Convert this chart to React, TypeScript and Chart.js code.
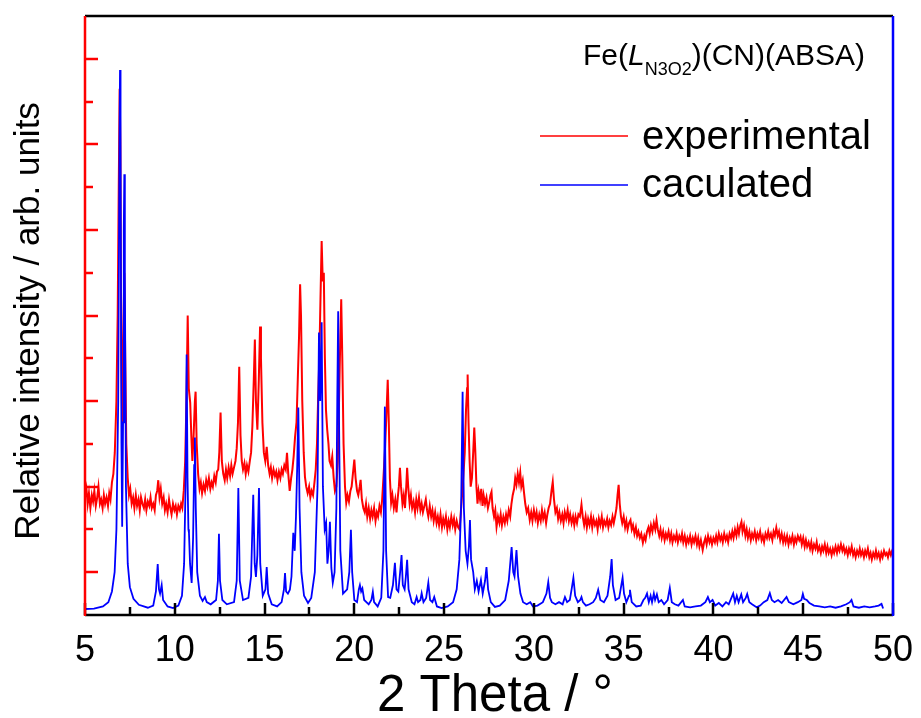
import React, { useEffect, useRef } from "react";
import { Chart, registerables } from "chart.js";

Chart.register(...registerables);

// ---- axis ranges & ticks ----
const X_MIN = 5;
const X_MAX = 50;
const Y_MIN = 0;
const Y_MAX = 14;
const xMajorTicks = [5, 10, 15, 20, 25, 30, 35, 40, 45, 50];
const xMinorTicks = [7.5, 12.5, 17.5, 22.5, 27.5, 32.5, 37.5, 42.5, 47.5];
const yMajorTicks = [1, 3, 5, 7, 9, 11, 13];
const yMinorTicks = [2, 4, 6, 8, 10, 12];

// ---- series: [2theta, relative intensity] ----
const experimental: [number, number][] = [
  [5.0, 2.75], [5.08, 2.95], [5.15, 2.6], [5.22, 2.85], [5.3, 2.5], [5.38, 2.8], [5.45, 2.65], [5.52, 2.9],
  [5.6, 2.55], [5.68, 2.75], [5.75, 3.0], [5.83, 2.6], [5.9, 2.7], [5.98, 2.5], [6.05, 2.8], [6.12, 2.6],
  [6.2, 2.75], [6.28, 2.55], [6.35, 2.85], [6.42, 2.7], [6.5, 3.1], [6.58, 3.3], [6.66, 3.8], [6.75, 5.0],
  [6.82, 7.0], [6.88, 10.0], [6.93, 12.3], [6.97, 11.0], [7.02, 6.0], [7.07, 4.5], [7.13, 6.5], [7.19, 8.0],
  [7.24, 6.0], [7.3, 4.0], [7.38, 3.2], [7.45, 2.8], [7.52, 2.95], [7.6, 2.6], [7.68, 2.75], [7.75, 2.5],
  [7.83, 2.8], [7.9, 2.55], [7.98, 2.7], [8.05, 2.45], [8.12, 2.75], [8.2, 2.6], [8.28, 2.5], [8.35, 2.7],
  [8.42, 2.45], [8.5, 2.65], [8.58, 2.55], [8.65, 2.75], [8.72, 2.5], [8.8, 2.6], [8.88, 2.45], [8.95, 2.8],
  [9.02, 2.9], [9.08, 3.15], [9.15, 2.75], [9.22, 2.95], [9.3, 2.6], [9.38, 2.75], [9.45, 2.45], [9.52, 2.6],
  [9.6, 2.4], [9.68, 2.7], [9.75, 2.5], [9.82, 2.35], [9.9, 2.6], [9.98, 2.45], [10.05, 2.55], [10.12, 2.35],
  [10.2, 2.55], [10.28, 2.45], [10.35, 2.6], [10.42, 2.5], [10.5, 2.9], [10.58, 3.6], [10.65, 5.0], [10.72, 7.0],
  [10.78, 5.3], [10.86, 4.96], [10.92, 4.2], [10.98, 3.6], [11.05, 4.2], [11.12, 5.0], [11.16, 5.22], [11.22, 4.0],
  [11.3, 3.3], [11.38, 2.95], [11.45, 3.1], [11.52, 2.85], [11.6, 3.05], [11.68, 2.9], [11.75, 3.15], [11.82, 3.0],
  [11.9, 3.2], [11.98, 2.95], [12.05, 3.1], [12.12, 3.0], [12.2, 3.25], [12.28, 3.1], [12.35, 3.35], [12.42, 3.4],
  [12.48, 3.8], [12.55, 4.73], [12.62, 3.6], [12.7, 3.3], [12.78, 3.15], [12.85, 3.4], [12.92, 3.2], [13.0, 3.45],
  [13.08, 3.25], [13.15, 3.5], [13.22, 3.3], [13.3, 3.45], [13.38, 3.6], [13.45, 3.9], [13.52, 4.5], [13.59, 5.8],
  [13.66, 4.2], [13.73, 3.6], [13.8, 3.4], [13.88, 3.55], [13.95, 3.3], [14.02, 3.5], [14.1, 3.35], [14.18, 3.6],
  [14.25, 3.8], [14.32, 4.4], [14.4, 5.5], [14.46, 6.44], [14.52, 5.0], [14.6, 4.33], [14.68, 5.5], [14.75, 6.74],
  [14.8, 6.0], [14.88, 4.5], [14.96, 3.8], [15.04, 3.6], [15.12, 3.93], [15.2, 3.5], [15.28, 3.3], [15.35, 3.45],
  [15.42, 3.2], [15.5, 3.4], [15.58, 3.25], [15.65, 3.35], [15.72, 3.15], [15.8, 3.35], [15.88, 3.2], [15.95, 3.4],
  [16.02, 3.3], [16.1, 3.5], [16.18, 3.4], [16.25, 3.79], [16.32, 3.3], [16.4, 2.9], [16.48, 3.2], [16.55, 3.4],
  [16.62, 3.7], [16.7, 4.17], [16.78, 4.5], [16.85, 5.5], [16.92, 6.5], [16.98, 7.73], [17.03, 7.0], [17.1, 5.0],
  [17.18, 3.8], [17.25, 3.23], [17.32, 3.0], [17.4, 2.85], [17.48, 3.0], [17.55, 2.75], [17.62, 2.9], [17.7, 2.8],
  [17.78, 3.1], [17.85, 3.4], [17.92, 4.0], [17.98, 5.0], [18.05, 6.0], [18.12, 7.5], [18.18, 8.74], [18.24, 7.8],
  [18.3, 8.0], [18.36, 6.0], [18.42, 4.8], [18.49, 4.33], [18.56, 4.0], [18.62, 3.6], [18.7, 3.5], [18.77, 3.7],
  [18.85, 3.2], [18.92, 2.9], [19.0, 3.0], [19.08, 3.6], [19.15, 5.0], [19.22, 6.5], [19.27, 7.38], [19.33, 6.0],
  [19.4, 4.0], [19.48, 3.0], [19.55, 2.62], [19.62, 2.8], [19.7, 2.65], [19.78, 2.9], [19.85, 3.0], [19.92, 3.3],
  [20.0, 3.63], [20.07, 3.2], [20.15, 2.9], [20.22, 2.8], [20.3, 3.0], [20.35, 3.16], [20.42, 2.7], [20.5, 2.5],
  [20.58, 2.4], [20.65, 2.6], [20.72, 2.3], [20.8, 2.5], [20.88, 2.25], [20.95, 2.45], [21.02, 2.3], [21.1, 2.5],
  [21.18, 2.2], [21.25, 2.4], [21.32, 2.3], [21.4, 2.55], [21.48, 2.4], [21.55, 2.7], [21.62, 3.2], [21.7, 3.8],
  [21.78, 4.6], [21.86, 5.5], [21.92, 4.5], [21.98, 3.2], [22.05, 2.62], [22.12, 2.8], [22.2, 2.5], [22.28, 2.7],
  [22.35, 2.4], [22.42, 2.75], [22.48, 3.0], [22.54, 3.44], [22.6, 3.0], [22.68, 2.6], [22.75, 2.8], [22.82, 2.5],
  [22.88, 2.9], [22.94, 3.44], [23.0, 3.0], [23.08, 2.6], [23.15, 2.8], [23.22, 2.5], [23.3, 2.65], [23.38, 2.4],
  [23.45, 2.7], [23.52, 2.5], [23.6, 2.75], [23.68, 2.45], [23.75, 2.6], [23.82, 2.4], [23.9, 2.55], [23.98, 2.7],
  [24.05, 2.45], [24.12, 2.3], [24.2, 2.55], [24.28, 2.3], [24.35, 2.45], [24.42, 2.2], [24.5, 2.4], [24.58, 2.15],
  [24.65, 2.3], [24.72, 2.1], [24.8, 2.35], [24.88, 2.05], [24.95, 2.25], [25.02, 2.1], [25.1, 2.3], [25.18, 2.0],
  [25.25, 2.2], [25.32, 2.05], [25.4, 2.3], [25.48, 2.1], [25.55, 2.25], [25.62, 2.0], [25.7, 2.2], [25.78, 2.05],
  [25.86, 2.0], [25.93, 2.4], [26.0, 2.8], [26.08, 3.3], [26.15, 3.8], [26.22, 4.8], [26.28, 5.3], [26.31, 5.62],
  [26.36, 4.5], [26.42, 3.6], [26.48, 3.0], [26.55, 3.2], [26.62, 3.8], [26.68, 4.38], [26.74, 3.8], [26.8, 3.0],
  [26.86, 2.6], [26.92, 2.9], [27.0, 2.7], [27.07, 2.95], [27.14, 2.55], [27.2, 2.8], [27.28, 2.6], [27.36, 2.75],
  [27.44, 2.5], [27.52, 2.65], [27.58, 2.8], [27.64, 2.88], [27.7, 2.5], [27.78, 2.3], [27.85, 2.45], [27.92, 2.06],
  [28.0, 2.3], [28.08, 2.15], [28.15, 2.35], [28.22, 2.1], [28.3, 2.3], [28.38, 2.15], [28.45, 2.35], [28.52, 2.2],
  [28.6, 2.45], [28.68, 2.3], [28.75, 2.6], [28.82, 2.8], [28.9, 2.95], [28.96, 3.2], [29.03, 3.05], [29.1, 3.3],
  [29.17, 3.1], [29.24, 3.33], [29.3, 3.0], [29.38, 3.15], [29.45, 2.86], [29.52, 2.6], [29.6, 2.4], [29.68, 2.5],
  [29.77, 2.22], [29.85, 2.4], [29.92, 2.2], [30.0, 2.45], [30.08, 2.25], [30.15, 2.4], [30.22, 2.15], [30.3, 2.35],
  [30.38, 2.2], [30.45, 2.45], [30.52, 2.25], [30.6, 2.4], [30.68, 2.15], [30.75, 2.35], [30.82, 2.5], [30.9, 2.6],
  [30.98, 2.9], [31.05, 3.11], [31.12, 2.7], [31.2, 2.4], [31.28, 2.5], [31.35, 2.25], [31.42, 2.4], [31.5, 2.2],
  [31.58, 2.35], [31.65, 2.15], [31.72, 2.4], [31.8, 2.25], [31.88, 2.45], [31.95, 2.2], [32.02, 2.35], [32.1, 2.15],
  [32.18, 2.3], [32.25, 2.1], [32.32, 2.3], [32.4, 2.15], [32.48, 2.35], [32.56, 2.3], [32.65, 2.58], [32.72, 2.3],
  [32.8, 2.1], [32.88, 2.3], [32.95, 2.05], [33.02, 2.25], [33.1, 2.1], [33.18, 2.3], [33.25, 2.05], [33.32, 2.25],
  [33.4, 2.1], [33.48, 2.2], [33.55, 2.0], [33.62, 2.25], [33.7, 2.1], [33.78, 2.3], [33.85, 2.05], [33.92, 2.2],
  [34.0, 2.1], [34.08, 2.25], [34.15, 2.05], [34.22, 2.2], [34.3, 2.1], [34.38, 2.3], [34.45, 2.15], [34.52, 2.3],
  [34.6, 2.5], [34.66, 2.8], [34.72, 3.04], [34.78, 2.6], [34.85, 2.3], [34.92, 2.15], [35.0, 2.3], [35.08, 2.05],
  [35.15, 2.2], [35.22, 2.0], [35.3, 2.15], [35.38, 2.22], [35.45, 2.0], [35.52, 2.1], [35.6, 1.9], [35.68, 2.05],
  [35.75, 1.85], [35.82, 1.95], [35.9, 1.8], [35.98, 1.9], [36.07, 1.69], [36.15, 1.85], [36.22, 1.75], [36.3, 1.95],
  [36.38, 2.05], [36.45, 1.9], [36.52, 2.1], [36.6, 1.95], [36.68, 2.15], [36.76, 2.0], [36.83, 2.22], [36.9, 2.0],
  [36.98, 1.85], [37.05, 2.0], [37.12, 1.8], [37.2, 1.95], [37.28, 1.75], [37.35, 1.9], [37.42, 1.8], [37.5, 1.95],
  [37.58, 1.75], [37.65, 1.9], [37.72, 1.7], [37.8, 1.85], [37.88, 1.75], [37.95, 1.9], [38.02, 1.7], [38.1, 1.85],
  [38.18, 1.75], [38.25, 1.9], [38.32, 1.7], [38.4, 1.85], [38.48, 1.65], [38.55, 1.8], [38.62, 1.7], [38.7, 1.85],
  [38.78, 1.65], [38.85, 1.8], [38.92, 1.7], [39.0, 1.85], [39.08, 1.65], [39.15, 1.8], [39.22, 1.6], [39.3, 1.75],
  [39.4, 1.52], [39.48, 1.7], [39.55, 1.8], [39.62, 1.65], [39.7, 1.85], [39.78, 1.7], [39.85, 1.8], [39.92, 1.65],
  [40.0, 1.8], [40.08, 1.7], [40.15, 1.85], [40.22, 1.7], [40.3, 1.9], [40.38, 1.75], [40.45, 1.85], [40.52, 1.7],
  [40.6, 1.9], [40.68, 1.75], [40.75, 1.85], [40.82, 1.7], [40.9, 1.9], [40.98, 1.8], [41.05, 1.95], [41.12, 1.8],
  [41.2, 2.0], [41.28, 1.85], [41.35, 2.05], [41.42, 1.9], [41.5, 2.1], [41.56, 2.18], [41.62, 1.95], [41.7, 2.1],
  [41.78, 1.85], [41.85, 2.0], [41.92, 1.8], [42.0, 1.95], [42.08, 1.75], [42.15, 1.9], [42.22, 1.8], [42.3, 1.95],
  [42.38, 1.75], [42.45, 1.9], [42.52, 1.8], [42.6, 1.95], [42.68, 1.75], [42.75, 1.85], [42.82, 1.7], [42.9, 1.9],
  [42.98, 1.8], [43.05, 1.95], [43.12, 1.8], [43.2, 1.9], [43.28, 1.75], [43.35, 1.95], [43.42, 1.85], [43.5, 2.04],
  [43.58, 1.85], [43.65, 1.95], [43.72, 1.75], [43.8, 1.9], [43.88, 1.7], [43.95, 1.85], [44.02, 1.7], [44.1, 1.85],
  [44.18, 1.65], [44.25, 1.8], [44.32, 1.7], [44.4, 1.85], [44.48, 1.65], [44.55, 1.8], [44.62, 1.7], [44.7, 1.85],
  [44.78, 1.75], [44.85, 1.83], [44.92, 1.65], [45.0, 1.8], [45.08, 1.6], [45.15, 1.75], [45.22, 1.6], [45.3, 1.7],
  [45.38, 1.55], [45.45, 1.7], [45.52, 1.5], [45.6, 1.65], [45.68, 1.55], [45.75, 1.7], [45.82, 1.5], [45.9, 1.6],
  [45.98, 1.45], [46.05, 1.6], [46.12, 1.5], [46.2, 1.65], [46.28, 1.45], [46.35, 1.6], [46.42, 1.45], [46.5, 1.55],
  [46.58, 1.4], [46.65, 1.55], [46.72, 1.45], [46.8, 1.6], [46.88, 1.45], [46.95, 1.6], [47.02, 1.5], [47.1, 1.65],
  [47.18, 1.5], [47.25, 1.6], [47.32, 1.45], [47.4, 1.55], [47.48, 1.4], [47.55, 1.55], [47.62, 1.45], [47.7, 1.6],
  [47.78, 1.4], [47.85, 1.5], [47.92, 1.35], [48.0, 1.5], [48.08, 1.4], [48.15, 1.55], [48.22, 1.4], [48.3, 1.5],
  [48.38, 1.35], [48.45, 1.5], [48.52, 1.4], [48.6, 1.55], [48.68, 1.35], [48.75, 1.45], [48.82, 1.3], [48.9, 1.45],
  [48.98, 1.35], [49.05, 1.5], [49.12, 1.35], [49.2, 1.45], [49.28, 1.3], [49.35, 1.45], [49.42, 1.35], [49.5, 1.5],
  [49.58, 1.4], [49.65, 1.45], [49.72, 1.35], [49.8, 1.5], [49.88, 1.4], [49.95, 1.5], [50.0, 1.55],
];

const calculated: [number, number][] = [
  [5.0, 0.14], [5.5, 0.15], [6.0, 0.2], [6.3, 0.3], [6.5, 0.55], [6.65, 1.0], [6.75, 2.0], [6.85, 5.0],
  [6.92, 11.0], [6.95, 12.74], [6.98, 11.0], [7.03, 4.0], [7.07, 2.06], [7.12, 4.5], [7.16, 9.0], [7.19, 10.3],
  [7.22, 8.0], [7.28, 3.0], [7.38, 1.2], [7.5, 0.65], [7.7, 0.38], [8.0, 0.24], [8.5, 0.17], [8.8, 0.22],
  [8.95, 0.55], [9.05, 1.19], [9.12, 0.6], [9.18, 0.5], [9.27, 0.7], [9.35, 0.35], [9.6, 0.2], [9.9, 0.16],
  [10.2, 0.22], [10.4, 0.45], [10.52, 1.2], [10.6, 3.0], [10.66, 6.09], [10.71, 3.2], [10.76, 2.0], [10.79, 1.92],
  [10.85, 1.2], [10.94, 0.75], [11.02, 1.8], [11.08, 3.5], [11.12, 4.15], [11.17, 2.5], [11.25, 1.0], [11.4, 0.45],
  [11.55, 0.33], [11.68, 0.42], [11.78, 0.3], [12.0, 0.25], [12.3, 0.35], [12.4, 0.8], [12.46, 1.9], [12.52, 0.8],
  [12.65, 0.35], [12.9, 0.25], [13.3, 0.3], [13.45, 0.8], [13.54, 2.97], [13.62, 0.8], [13.8, 0.35], [14.1, 0.4],
  [14.25, 0.9], [14.37, 2.81], [14.45, 1.2], [14.52, 0.89], [14.6, 1.4], [14.69, 2.97], [14.76, 1.2], [14.9, 0.45],
  [15.05, 0.6], [15.12, 1.12], [15.2, 0.5], [15.4, 0.25], [15.7, 0.2], [15.95, 0.3], [16.08, 0.6], [16.14, 0.98],
  [16.2, 0.55], [16.3, 0.5], [16.41, 0.59], [16.5, 0.9], [16.6, 1.92], [16.68, 1.5], [16.75, 2.3], [16.82, 3.5],
  [16.88, 4.85], [16.95, 2.5], [17.05, 1.0], [17.2, 0.45], [17.42, 0.28], [17.6, 0.4], [17.8, 1.0], [17.95, 3.0],
  [18.03, 6.6], [18.1, 5.0], [18.18, 6.84], [18.25, 3.0], [18.35, 2.0], [18.43, 2.15], [18.5, 1.2], [18.57, 1.5],
  [18.64, 2.18], [18.72, 1.1], [18.8, 0.75], [18.9, 1.0], [19.0, 2.5], [19.05, 5.0], [19.1, 7.1], [19.15, 4.5],
  [19.22, 1.5], [19.37, 0.5], [19.6, 0.6], [19.72, 1.0], [19.81, 1.99], [19.88, 1.0], [20.0, 0.35], [20.15, 0.3],
  [20.25, 0.6], [20.31, 0.7], [20.38, 0.55], [20.45, 0.62], [20.55, 0.35], [20.8, 0.25], [20.95, 0.35], [21.03, 0.54],
  [21.1, 0.3], [21.3, 0.2], [21.5, 0.4], [21.62, 1.5], [21.7, 4.87], [21.77, 1.5], [21.88, 0.42], [22.0, 0.4],
  [22.15, 0.7], [22.26, 1.22], [22.35, 0.6], [22.45, 0.55], [22.55, 1.0], [22.63, 1.4], [22.7, 0.7], [22.8, 0.6],
  [22.87, 0.9], [22.94, 1.29], [23.02, 0.6], [23.2, 0.3], [23.35, 0.25], [23.47, 0.42], [23.55, 0.3], [23.68, 0.35],
  [23.75, 0.51], [23.85, 0.3], [24.0, 0.4], [24.12, 0.75], [24.22, 0.35], [24.35, 0.3], [24.45, 0.42], [24.6, 0.2],
  [24.86, 0.16], [25.2, 0.2], [25.5, 0.3], [25.7, 0.6], [25.85, 1.3], [25.95, 2.6], [26.03, 5.22], [26.1, 2.5],
  [26.2, 1.5], [26.3, 1.2], [26.38, 1.6], [26.44, 2.22], [26.5, 1.3], [26.62, 1.0], [26.71, 0.6], [26.82, 0.8],
  [26.92, 0.55], [27.05, 0.82], [27.15, 0.5], [27.28, 0.8], [27.36, 1.12], [27.45, 0.6], [27.6, 0.3], [27.83, 0.19],
  [28.1, 0.22], [28.4, 0.35], [28.6, 0.8], [28.76, 1.59], [28.85, 1.0], [28.92, 0.9], [29.03, 1.52], [29.12, 0.9],
  [29.25, 0.5], [29.4, 0.3], [29.6, 0.25], [29.8, 0.3], [29.95, 0.2], [30.2, 0.22], [30.5, 0.3], [30.7, 0.5],
  [30.8, 0.77], [30.9, 0.4], [31.0, 0.3], [31.2, 0.25], [31.4, 0.3], [31.6, 0.25], [31.73, 0.42], [31.85, 0.3],
  [32.0, 0.35], [32.1, 0.6], [32.2, 0.87], [32.3, 0.45], [32.45, 0.3], [32.58, 0.35], [32.65, 0.42], [32.73, 0.3],
  [32.9, 0.22], [33.1, 0.25], [33.3, 0.3], [33.45, 0.4], [33.58, 0.59], [33.7, 0.35], [33.9, 0.3], [34.1, 0.45],
  [34.25, 0.9], [34.33, 1.31], [34.4, 0.7], [34.55, 0.35], [34.75, 0.4], [34.87, 0.7], [34.94, 0.87], [35.02, 0.5],
  [35.15, 0.3], [35.3, 0.45], [35.35, 0.59], [35.45, 0.3], [35.7, 0.2], [35.95, 0.22], [36.1, 0.35], [36.2, 0.4],
  [36.3, 0.5], [36.4, 0.3], [36.5, 0.45], [36.58, 0.3], [36.68, 0.5], [36.75, 0.35], [36.85, 0.48], [36.95, 0.3],
  [37.1, 0.35], [37.25, 0.25], [37.45, 0.35], [37.57, 0.63], [37.68, 0.3], [37.85, 0.25], [38.05, 0.22], [38.3, 0.35],
  [38.4, 0.2], [38.7, 0.18], [39.0, 0.2], [39.3, 0.22], [39.55, 0.3], [39.69, 0.42], [39.8, 0.3], [39.95, 0.35],
  [40.1, 0.22], [40.3, 0.28], [40.5, 0.2], [40.7, 0.3], [40.85, 0.25], [41.0, 0.4], [41.1, 0.5], [41.2, 0.3],
  [41.3, 0.45], [41.4, 0.3], [41.55, 0.48], [41.65, 0.3], [41.8, 0.4], [41.88, 0.49], [42.0, 0.3], [42.15, 0.25],
  [42.4, 0.18], [42.6, 0.22], [42.8, 0.3], [43.0, 0.35], [43.14, 0.51], [43.25, 0.35], [43.4, 0.3], [43.6, 0.35],
  [43.8, 0.28], [44.07, 0.42], [44.2, 0.3], [44.45, 0.25], [44.7, 0.3], [44.9, 0.35], [44.98, 0.49], [45.05, 0.38],
  [45.2, 0.35], [45.35, 0.28], [45.6, 0.22], [45.9, 0.2], [46.2, 0.18], [46.5, 0.2], [46.8, 0.17], [47.1, 0.2],
  [47.4, 0.25], [47.6, 0.3], [47.69, 0.35], [47.8, 0.2], [48.1, 0.17], [48.4, 0.2], [48.7, 0.18], [49.0, 0.2],
  [49.2, 0.22], [49.36, 0.26], [49.45, 0.15],
];

// ---- texts ----
const xTitle = "2 Theta / °";
const yTitle = "Relative intensity / arb. units";
const seriesLabels = ["experimental", "caculated"];
const compoundParts = { before: "Fe(", italic: "L", sub: "N3O2", after: ")(CN)(ABSA)" };

const FONT = '"Liberation Sans", Arial, Helvetica, sans-serif';
const RED = "#ff0000";
const BLUE = "#0000ff";

const decorPlugin = {
  id: "decor",
  afterDatasetsDraw(chart: any) {
    const { ctx, chartArea: a, scales } = chart;
    const xs = scales.x;
    const ys = scales.y;
    ctx.save();
    ctx.lineCap = "butt";

    // x ticks (inward, black)
    ctx.strokeStyle = "#000";
    ctx.lineWidth = 2.5;
    const drawXTick = (v: number, len: number) => {
      const px = Math.round(xs.getPixelForValue(v));
      ctx.beginPath();
      ctx.moveTo(px, a.bottom);
      ctx.lineTo(px, a.bottom - len);
      ctx.stroke();
    };
    xMajorTicks.forEach((v) => drawXTick(v, 12));
    xMinorTicks.forEach((v) => drawXTick(v, 8));

    // y ticks (inward, red)
    ctx.strokeStyle = RED;
    const drawYTick = (v: number, len: number) => {
      const py = Math.round(ys.getPixelForValue(v));
      ctx.beginPath();
      ctx.moveTo(a.left, py);
      ctx.lineTo(a.left + len, py);
      ctx.stroke();
    };
    yMajorTicks.forEach((v) => drawYTick(v, 13));
    yMinorTicks.forEach((v) => drawYTick(v, 8));

    // frame
    ctx.lineWidth = 2.5;
    ctx.strokeStyle = "#000";
    ctx.beginPath();
    ctx.moveTo(a.left, a.top);
    ctx.lineTo(a.right, a.top);
    ctx.moveTo(a.left, a.bottom);
    ctx.lineTo(a.right, a.bottom);
    ctx.stroke();
    ctx.strokeStyle = RED;
    ctx.beginPath();
    ctx.moveTo(a.left, a.top);
    ctx.lineTo(a.left, a.bottom + 1);
    ctx.stroke();
    ctx.strokeStyle = BLUE;
    ctx.beginPath();
    ctx.moveTo(a.right, a.top);
    ctx.lineTo(a.right, a.bottom + 1);
    ctx.stroke();

    // x tick labels
    ctx.fillStyle = "#000";
    ctx.font = `36px ${FONT}`;
    ctx.textAlign = "center";
    ctx.textBaseline = "alphabetic";
    xMajorTicks.forEach((v) => {
      ctx.fillText(String(v), xs.getPixelForValue(v), 661);
    });

    // x title
    ctx.font = `51px ${FONT}`;
    ctx.fillText(xTitle, 495, 711);

    // y title
    ctx.save();
    ctx.translate(29, 321);
    ctx.rotate(-Math.PI / 2);
    ctx.font = `35px ${FONT}`;
    ctx.textBaseline = "middle";
    ctx.fillText(yTitle, 0, 0);
    ctx.restore();

    // compound label
    ctx.textAlign = "left";
    ctx.textBaseline = "alphabetic";
    let cx = 583;
    const base = 65;
    ctx.font = `30px ${FONT}`;
    ctx.fillText(compoundParts.before, cx, base);
    cx += ctx.measureText(compoundParts.before).width;
    ctx.font = `italic 30px ${FONT}`;
    ctx.fillText(compoundParts.italic, cx, base);
    cx += ctx.measureText(compoundParts.italic).width;
    ctx.font = `18px ${FONT}`;
    ctx.fillText(compoundParts.sub, cx, base + 10);
    cx += ctx.measureText(compoundParts.sub).width;
    ctx.font = `30px ${FONT}`;
    ctx.fillText(compoundParts.after, cx, base);

    // legend
    const legendRows = [
      { label: seriesLabels[0], color: RED, lineY: 136, textY: 149 },
      { label: seriesLabels[1], color: BLUE, lineY: 185, textY: 197 },
    ];
    ctx.font = `40px ${FONT}`;
    legendRows.forEach((r) => {
      ctx.strokeStyle = r.color;
      ctx.lineWidth = 1.5;
      ctx.beginPath();
      ctx.moveTo(540, r.lineY);
      ctx.lineTo(628, r.lineY);
      ctx.stroke();
      ctx.fillStyle = "#000";
      ctx.fillText(r.label, 642, r.textY);
    });

    ctx.restore();
  },
};

export default function App() {
  const canvasRef = useRef<HTMLCanvasElement | null>(null);

  useEffect(() => {
    const canvas = canvasRef.current;
    if (!canvas) return;
    const chart = new Chart(canvas, {
      type: "line",
      data: {
        datasets: [
          {
            label: seriesLabels[1],
            data: calculated.map(([x, y]) => ({ x, y })),
            borderColor: BLUE,
            borderWidth: 1.8,
            pointRadius: 0,
            tension: 0,
            fill: false,
            order: 0,
          },
          {
            label: seriesLabels[0],
            data: experimental.map(([x, y]) => ({ x, y })),
            borderColor: RED,
            borderWidth: 2,
            pointRadius: 0,
            tension: 0,
            fill: false,
            order: 1,
          },
        ],
      },
      options: {
        animation: false,
        responsive: false,
        devicePixelRatio: 1,
        events: [],
        layout: { padding: { left: 85, right: 28, top: 16, bottom: 103 } },
        scales: {
          x: { type: "linear", min: X_MIN, max: X_MAX, display: false },
          y: { type: "linear", min: Y_MIN, max: Y_MAX, display: false },
        },
        plugins: {
          legend: { display: false },
          tooltip: { enabled: false },
          title: { display: false },
        },
      },
      plugins: [decorPlugin],
    });
    return () => chart.destroy();
  }, []);

  return (
    <div style={{ position: "absolute", left: 0, top: 0, width: 921, height: 718, background: "#fff" }}>
      <canvas ref={canvasRef} width={921} height={718} style={{ display: "block" }} />
    </div>
  );
}
